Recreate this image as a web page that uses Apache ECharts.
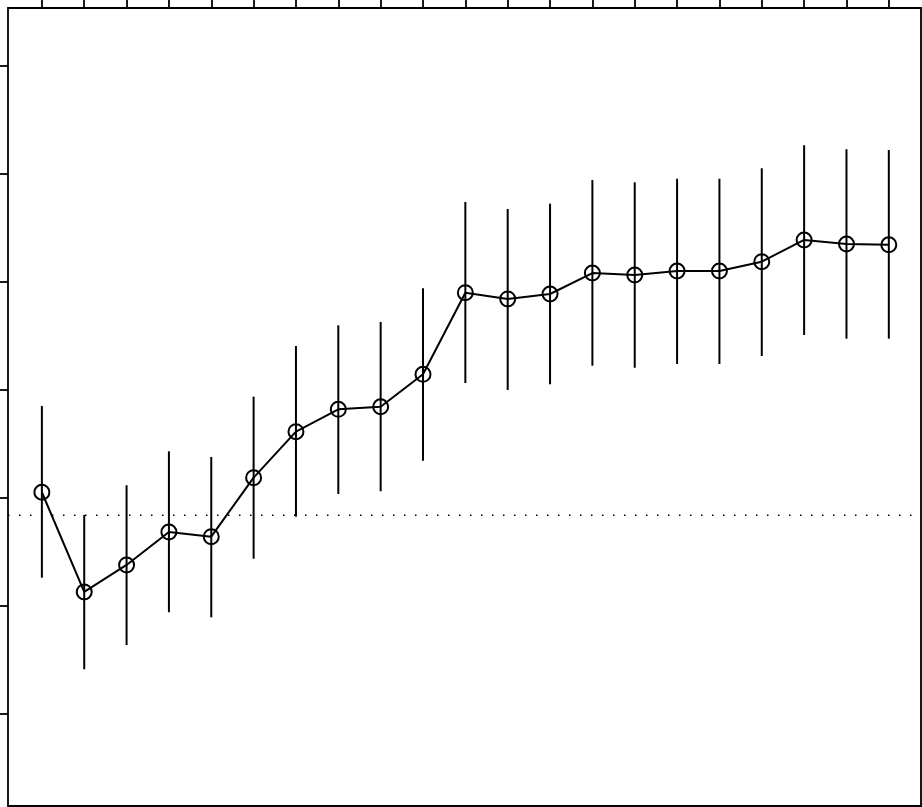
<!DOCTYPE html>
<html>
<head>
<meta charset="utf-8">
<script src="https://cdn.jsdelivr.net/npm/echarts@6/dist/echarts.min.js"></script>
<style>html,body{margin:0;padding:0;background:#fff;}#c{width:922px;height:807px;}</style>
</head>
<body>
<div id="c"></div>
<script>
var categories = [1,2,3,4,5,6,7,8,9,10,11,12,13,14,15,16,17,18,19,20,21];
var means = [2.053,1.130,1.380,1.685,1.642,2.188,2.614,2.821,2.845,3.145,3.901,3.843,3.889,4.083,4.065,4.102,4.102,4.188,4.389,4.352,4.345];
var upper = [2.852,1.843,2.118,2.432,2.380,2.938,3.407,3.599,3.630,3.942,4.741,4.676,4.725,4.944,4.923,4.956,4.956,5.053,5.266,5.229,5.222];
var lower = [1.262,0.414,0.639,0.942,0.895,1.438,1.827,2.037,2.062,2.345,3.065,3.000,3.053,3.225,3.206,3.241,3.241,3.315,3.509,3.475,3.475];
var refLevel = 1.840;
var yTicks = [0,1,2,3,4,5,6];

var chart = echarts.init(document.getElementById('c'), null, {renderer:'canvas'});
var lineData = categories.map(function(c,i){return [c, means[i]];});
var barData = categories.map(function(c,i){return [c, lower[i], upper[i]];});
var xMin = 0.2, xMax = 21.76;

chart.setOption({
  animation:false,
  backgroundColor:'#fff',
  grid:{left:8, top:8, right:1, bottom:1, show:true, borderColor:'#000', borderWidth:1.8, backgroundColor:'transparent', containLabel:false},
  xAxis:{type:'value', position:'top', min:xMin, max:xMax,
    axisLine:{show:false, onZero:false}, splitLine:{show:false},
    axisTick:{show:true, inside:false, length:8, lineStyle:{color:'#000', width:1.8}, customValues:categories},
    axisLabel:{show:false, customValues:categories}},
  yAxis:{type:'value', position:'left', min:-0.852, max:6.537,
    axisLine:{show:false, onZero:false}, splitLine:{show:false},
    axisTick:{show:true, inside:false, length:8, lineStyle:{color:'#000', width:1.8}, customValues:yTicks},
    axisLabel:{show:false, customValues:yTicks}},
  series:[
    {type:'line', data:[[xMin, refLevel],[xMax, refLevel]], symbol:'none', silent:true,
      lineStyle:{color:'#000', width:1.6, type:[1.5,9.5], dashOffset:0}, z:1},
    {type:'custom', data:barData, z:2,
      renderItem:function(params, api){
        var p1 = api.coord([api.value(0), api.value(1)]);
        var p2 = api.coord([api.value(0), api.value(2)]);
        return {type:'line', shape:{x1:p1[0], y1:p1[1], x2:p2[0], y2:p2[1]},
          style:{stroke:'#000', lineWidth:2}};
      }},
    {type:'line', data:lineData, symbol:'circle', symbolSize:15, z:3,
      lineStyle:{color:'#000', width:2},
      itemStyle:{color:'rgba(0,0,0,0)', borderColor:'#000', borderWidth:2}}
  ]
});
</script>
</body>
</html>
